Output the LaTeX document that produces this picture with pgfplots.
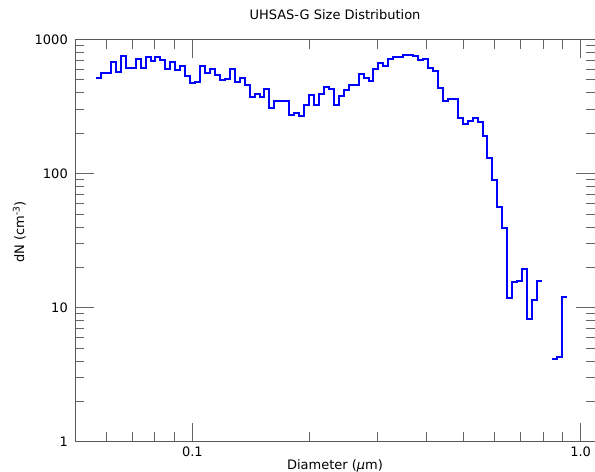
\documentclass[border=0pt]{standalone}
\usepackage{pgfplots}
\pgfplotsset{compat=1.18}
\usepackage{fontspec}
\setmainfont{DejaVu Sans}
\definecolor{lineblue}{RGB}{0,0,255}

% bin lower edge (um), dN (cm^-3); last row closes the final step
\pgfplotstableread{
d dN
0.05645 519.0
0.05814 563.6
0.05987 563.6
0.06166 674.8
0.06349 573.4
0.06539 754.5
0.06734 607.7
0.06935 607.7
0.07142 719.2
0.07355 616.2
0.07574 740.5
0.07800 691.3
0.08032 735.4
0.08272 698.4
0.08519 598.4
0.08773 685.3
0.09034 587.2
0.09304 634.5
0.09581 530.7
0.09867 473.8
0.1016 478.7
0.1046 635.5
0.1078 557.9
0.1110 603.7
0.1143 541.8
0.1177 503.0
0.1212 505.8
0.1248 603.7
0.1285 477.8
0.1324 512.0
0.1363 456.3
0.1404 373.3
0.1446 390.9
0.1489 373.3
0.1533 429.7
0.1579 306.3
0.1626 348.4
0.1675 348.4
0.1725 348.4
0.1776 273.5
0.1829 283.5
0.1884 268.9
0.1940 323.7
0.1998 384.2
0.2057 323.7
0.2119 392.3
0.2182 443.2
0.2247 429.0
0.2314 323.7
0.2383 379.7
0.2454 418.8
0.2527 453.9
0.2603 459.3
0.2680 550.2
0.2760 519.0
0.2842 490.4
0.2927 597.4
0.3015 671.4
0.3104 632.3
0.3197 710.6
0.3292 746.7
0.3391 746.7
0.3492 760.9
0.3596 766.2
0.3703 754.5
0.3814 705.7
0.3927 719.2
0.4044 613.1
0.4165 583.2
0.4289 437.2
0.4417 348.4
0.4549 360.0
0.4685 360.0
0.4824 257.6
0.4968 234.8
0.5116 247.2
0.5269 257.6
0.5426 240.5
0.5588 189.1
0.5755 130.7
0.5926 89.9
0.6103 55.9
0.6285 38.96
0.6473 11.71
0.6666 15.41
0.6864 15.85
0.7069 19.27
0.7280 8.21
0.7497 11.37
0.7721 15.85
0.7951 15.85
}\binsA

\pgfplotstableread{
d dN
0.8432 4.11
0.8684 4.30
0.8943 11.92
0.9210 11.92
}\binsB

\begin{document}
\begin{tikzpicture}
\begin{axis}[
  at={(0,0)}, anchor=south west,
  scale only axis,
  width=520bp, height=402.2bp,
  xmode=log, ymode=log,
  xmin=0.04984, xmax=1.089,
  ymin=1, ymax=1000,
  font=\fontsize{13bp}{15.6bp}\selectfont,
  xtick={0.1,1}, xticklabels={0.1,1.0},
  minor xtick={0.06,0.07,0.08,0.09,0.2,0.3,0.4,0.5,0.6,0.7,0.8,0.9},
  ytick={1,10,100,1000}, yticklabels={1,10,100,1000},
  minor ytick={2,3,4,5,6,7,8,9,20,30,40,50,60,70,80,90,200,300,400,500,600,700,800,900},
  tick align=inside,
  major tick length=19bp, minor tick length=9.5bp,
  tick style={color=black!60, line width=0.8bp},
  axis line style={color=black!65, line width=0.8bp},
  xticklabel style={anchor=base, yshift=-14.3bp},
  yticklabel style={anchor=east, inner sep=0pt, xshift=-7bp},
  title={UHSAS-G Size Distribution},
  title style={at={(axis description cs:0.5,1)}, anchor=base, yshift=14.5bp},
  xlabel={Diameter ({\itshape μ}m)},
  xlabel style={at={(axis description cs:0.5,0)}, anchor=base, yshift=-27.6bp},
  ylabel={dN (cm\textsuperscript{-3})},
  ylabel style={at={(axis description cs:-0.098,0.521)}, anchor=base},
]
\addplot[const plot, draw=lineblue, line width=2bp, line join=miter] table[x=d, y=dN] {\binsA};
\addplot[const plot, draw=lineblue, line width=2bp, line join=miter] table[x=d, y=dN] {\binsB};
\end{axis}
\pgfresetboundingbox
\path[use as bounding box] (-75bp,-30.3bp) rectangle (520bp,441.7bp);
\end{tikzpicture}
\end{document}
